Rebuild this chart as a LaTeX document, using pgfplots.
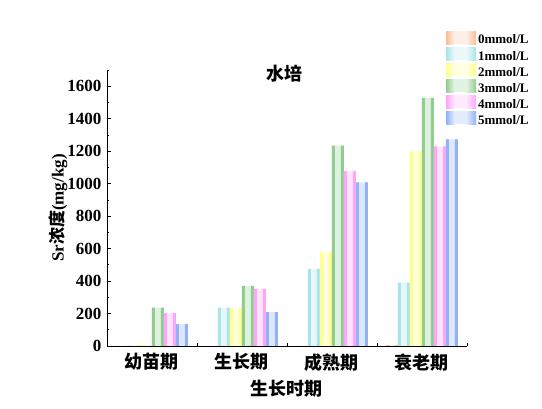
\documentclass[border=0pt]{standalone}
\usepackage{fontspec}
\setmainfont{Liberation Serif}
\newfontfamily\cjk{Noto Sans CJK SC}
\usepackage{pgfplots}
\pgfplotsset{compat=1.18}
\definecolor{c0}{RGB}{248,190,150}
\definecolor{c1}{RGB}{170,228,235}
\definecolor{c2}{RGB}{255,255,140}
\definecolor{c3}{RGB}{145,205,145}
\definecolor{c4}{RGB}{255,165,250}
\definecolor{c5}{RGB}{145,178,245}
% #1 colour, #2 centre shift, #3 left strip shift, #4 right strip shift, #5 coordinates
\newcommand\myseries[5]{%
  \addplot[ybar, bar width=12pt, bar shift=#2, draw=none, fill=#1!30,
    legend image code/.code={\fill[#1!25] (0pt,-4pt) rectangle (30pt,9pt);
      \shade[left color=#1, right color=#1!25] (0pt,-4pt) rectangle (8pt,9pt);
      \shade[left color=#1!25, right color=#1] (20pt,-4pt) rectangle (30pt,9pt);}]
    coordinates {#5};
  \addplot[ybar, bar width=3pt, bar shift=#3, draw=none, fill=#1, forget plot] coordinates {#5};
  \addplot[ybar, bar width=3pt, bar shift=#4, draw=none, fill=#1, forget plot] coordinates {#5};
}
\begin{document}
\begin{tikzpicture}
\path[use as bounding box] (0,0) rectangle (542pt,409pt);
\begin{axis}[
  at={(107pt,63pt)}, anchor=south west,
  scale only axis, width=360pt, height=276pt,
  xmin=-0.5, xmax=3.5, ymin=0, ymax=1700,
  enlargelimits=false,
  axis x line*=bottom, axis y line*=left,
  axis line style={-, line width=0.8pt},
  xtick={0,1,2,3},
  xticklabels={幼苗期,生长期,成熟期,衰老期},
  minor xtick={0.5,1.5,2.5,3.5},
  ytick={0,200,...,1600},
  minor ytick={100,300,...,1700},
  tick align=inside,
  major tick length=4pt, minor tick length=2.5pt,
  every tick/.style={black, line width=0.7pt},
  /pgf/number format/assume math mode=true,
  /pgf/number format/1000 sep={},
  yticklabel style={font=\bfseries\fontsize{17}{17}\selectfont, xshift=-2pt},
  xticklabel style={font=\cjk\bfseries\fontsize{18}{18}\selectfont, yshift=-4pt},
  xlabel={生长时期},
  xlabel style={font=\cjk\bfseries\fontsize{18}{18}\selectfont, at={(axis description cs:0.5,-0.1558)}, anchor=center},
  ylabel={Sr{\cjk 浓度}(mg/kg)},
  ylabel style={font=\bfseries\fontsize{17}{17}\selectfont, at={(axis description cs:-0.136,0.5)}, anchor=center},
  title={水培},
  title style={font=\cjk\bfseries\fontsize{18}{18}\selectfont, at={(axis description cs:0.4917,0.965)}, anchor=center},
  legend style={draw=none, fill=none, inner sep=0pt, row sep=0pt,
    at={(axis description cs:0.9417,1.1413)}, anchor=north west,
    nodes={inner sep=1.8pt},
    font=\bfseries\fontsize{13}{13}\selectfont},
  legend cell align=left,
]
\myseries{c0}{-30pt}{-34.5pt}{-25.5pt}{(0,0) (1,0) (2,0) (3,6)}
\myseries{c1}{-18pt}{-22.5pt}{-13.5pt}{(0,3) (1,236) (2,475) (3,391)}
\myseries{c2}{-6pt}{-10.5pt}{-1.5pt}{(0,6) (1,232) (2,582) (3,1199)}
\myseries{c3}{6pt}{1.5pt}{10.5pt}{(0,236) (1,370) (2,1234) (3,1528)}
\myseries{c4}{18pt}{13.5pt}{22.5pt}{(0,202) (1,352) (2,1078) (3,1230)}
\myseries{c5}{30pt}{25.5pt}{34.5pt}{(0,134) (1,208) (2,1008) (3,1272)}
\legend{0mmol/L,1mmol/L,2mmol/L,3mmol/L,4mmol/L,5mmol/L}
\end{axis}
\end{tikzpicture}
\end{document}
